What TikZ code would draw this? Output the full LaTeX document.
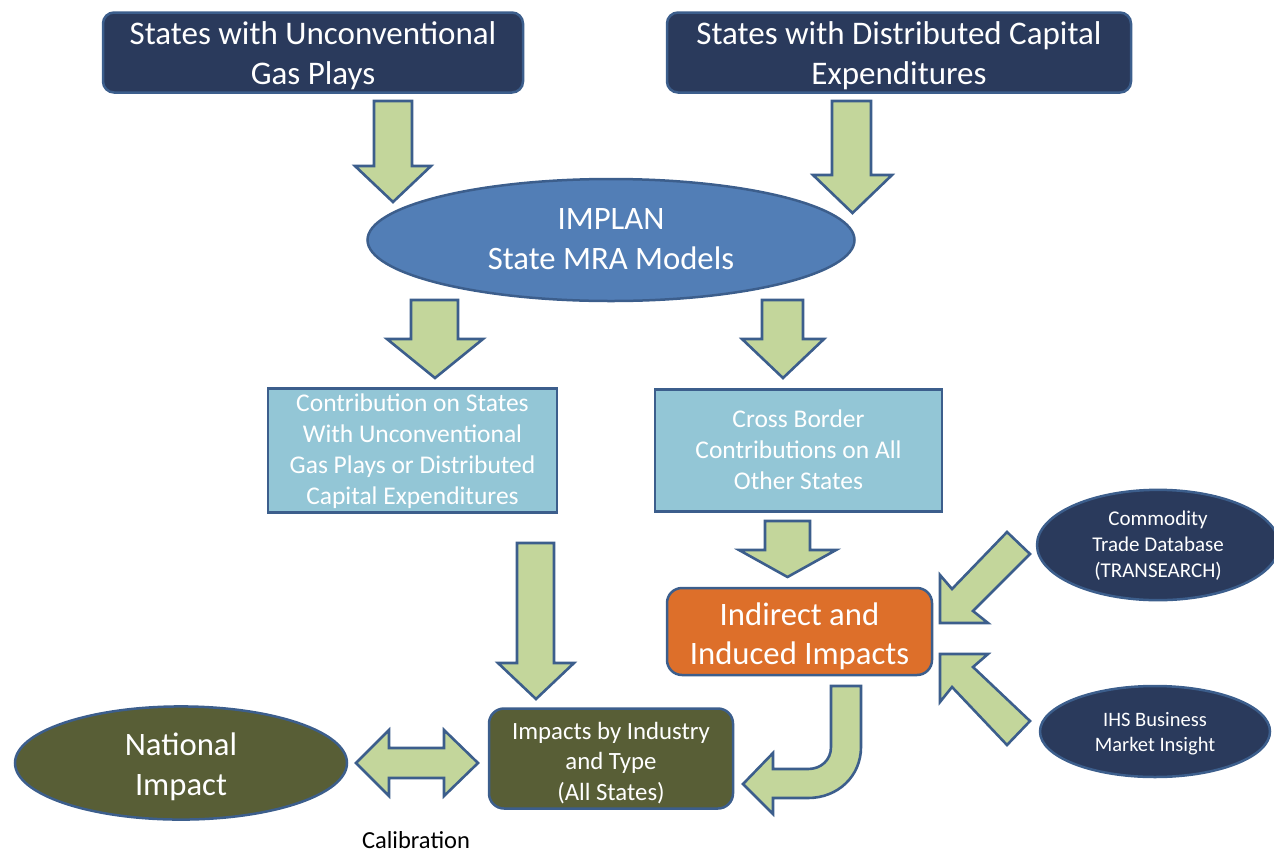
\documentclass[tikz,border=0pt]{standalone}
\usepackage{fontspec}
\setmainfont{Carlito}
\usetikzlibrary{shapes.geometric}
\definecolor{navy}{RGB}{42,58,92}
\definecolor{edge}{RGB}{60,94,140}
\definecolor{implan}{RGB}{82,126,182}
\definecolor{lblue}{RGB}{147,198,214}
\definecolor{orng}{RGB}{221,111,42}
\definecolor{olive}{RGB}{88,94,54}
\definecolor{arrfill}{RGB}{195,214,155}
\newcommand\lowtxt[2]{\raisebox{-#1}[\height][\depth]{\begin{tabular}{@{}c@{}}#2\end{tabular}}}
\tikzset{
  base/.style={draw=edge, line width=2.5pt, text=white, inner sep=0pt},
  navybox/.style={base, fill=navy, rectangle, rounded corners=11pt, font=\fontsize{33}{40}\selectfont},
  bluebox/.style={base, fill=lblue, rectangle, font=\fontsize{25.5}{31}\selectfont},
  ellnode/.style={base, ellipse},
  blk/.style={draw=edge, fill=arrfill, line width=2.6pt, line join=miter},
}
\newcommand\dnarr[7]{\path[blk] (#1,#3) -- (#2,#3) -- (#2,#4) -- (#6,#4) -- ({(#5+#6)/2},#7) -- (#5,#4) -- (#1,#4) -- cycle;}
\begin{document}
\begin{tikzpicture}[x=1pt,y=-1pt]
\useasboundingbox (0,0) rectangle (1274,852);
\begin{scope}
\clip (0,0) rectangle (1274,852);
% top boxes
\node[navybox, minimum width=420pt, minimum height=79pt] (unconv) at (313,52.5) {\lowtxt{3.5pt}{States with Unconventional\\Gas Plays}};
\node[navybox, minimum width=464pt, minimum height=79pt] (capex) at (899,52.5) {\lowtxt{3.5pt}{States with Distributed Capital\\Expenditures}};
% IMPLAN
\node[ellnode, fill=implan, minimum width=487pt, minimum height=122pt, font=\fontsize{32.7}{40}\selectfont] (implan) at (611,240) {\lowtxt{1.5pt}{IMPLAN\\State MRA Models}};
% contribution boxes
\node[bluebox, minimum width=289pt, minimum height=123pt] (contrib) at (412.5,450.5) {\lowtxt{1.5pt}{Contribution on States\\With Unconventional\\Gas Plays or Distributed\\Capital Expenditures}};
\node[bluebox, minimum width=287pt, minimum height=122pt] (cross) at (798.5,450.5) {\lowtxt{1.5pt}{Cross Border\\Contributions on All\\Other States}};
% indirect
\node[base, fill=orng, rounded corners=15pt, minimum width=265pt, minimum height=87pt, font=\fontsize{32.7}{39}\selectfont] (indirect) at (799.5,631.5) {\lowtxt{6pt}{Indirect and\\Induced Impacts}};
% side ellipses
\node[ellnode, fill=navy, minimum width=242pt, minimum height=90pt, font=\fontsize{21}{26}\selectfont] (commod) at (1158,545) {\lowtxt{1.5pt}{Commodity\\Trade Database\\(TRANSEARCH)}};
\node[ellnode, fill=navy, minimum width=230pt, minimum height=91pt, font=\fontsize{20.5}{25}\selectfont] (ihs) at (1155,731.5) {\lowtxt{2.5pt}{IHS Business\\Market Insight}};
% bottom
\node[ellnode, fill=olive, minimum width=332pt, minimum height=88pt, font=\fontsize{32.7}{40}\selectfont] (national) at (181,763) {\lowtxt{4.5pt}{National\\Impact}};
\node[base, fill=olive, rounded corners=15pt, minimum width=244pt, minimum height=100pt, font=\fontsize{24.8}{30.5}\selectfont] (impacts) at (611,758.5) {\lowtxt{5pt}{Impacts by Industry\\and Type\\(All States)}};
\node[font=\fontsize{24.5}{30}\selectfont, text=black, inner sep=0pt] (calib) at (416,840) {Calibration};
% block arrows
\dnarr{374}{412}{101}{166}{355}{431}{202}
\dnarr{832}{871}{101}{175}{813}{892}{213}
\dnarr{411}{458}{300}{339}{387}{483}{378}
\dnarr{762}{803}{300}{339}{742}{824}{378}
\dnarr{517}{554}{543}{663}{498}{574}{699}
\dnarr{765}{810}{521}{550}{739}{836}{577}
% diagonal arrows
\path[blk] (1007,532) -- (1030,554) -- (973,611) -- (988,623) -- (940,623) -- (940,575) -- (952,589) -- cycle;
\path[blk] (940,654) -- (988,654) -- (973,667) -- (1030,721) -- (1007,745) -- (952,687) -- (940,702) -- cycle;
% calibration double arrow
\path[blk] (356,763) -- (389,730) -- (389,748) -- (444,748) -- (444,730) -- (478,763) -- (444,796) -- (444,778) -- (389,778) -- (389,796) -- cycle;
% curved arrow
\path[blk] (831,686) -- (861,686) -- (861,747) .. controls (861,776) and (838,798) .. (808,798) -- (773,798) -- (773,814) -- (743,784) -- (773,753) -- (773,769) -- (808,769) .. controls (821,769) and (831,760) .. (831,747) -- cycle;
\end{scope}
\end{tikzpicture}
\end{document}
